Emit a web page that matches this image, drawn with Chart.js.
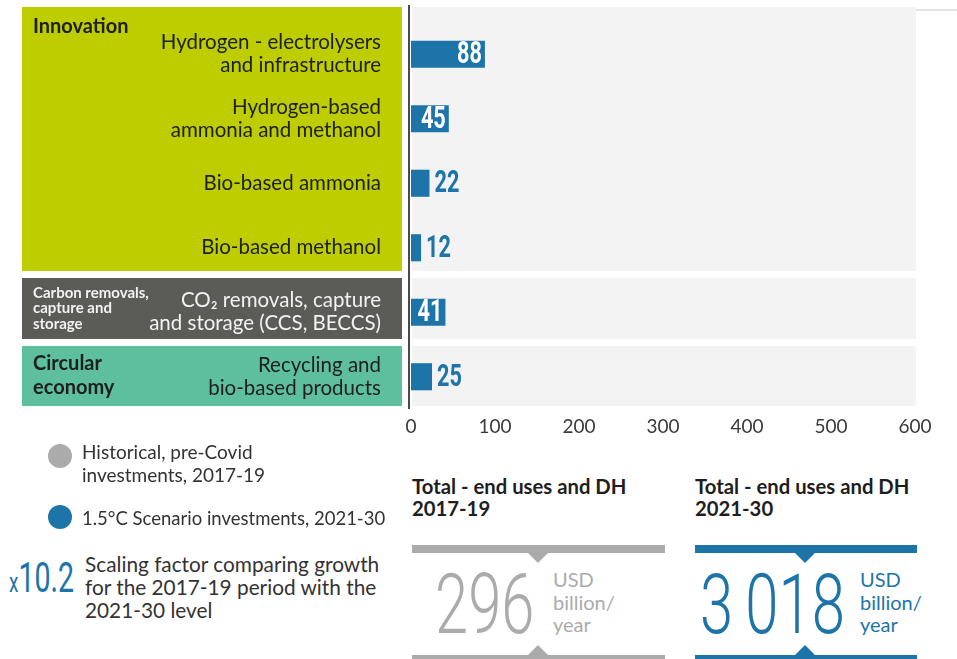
<!DOCTYPE html>
<html><head><meta charset="utf-8">
<script src="https://cdn.jsdelivr.net/npm/chart.js@4/dist/chart.umd.min.js"></script>
<style>
html,body{margin:0;padding:0;background:#fff;width:957px;height:659px;overflow:hidden;font-family:Lato,"Open Sans",sans-serif;}
#wrap{position:absolute;left:0;top:0;width:957px;height:445px;}
.abs{position:absolute;white-space:nowrap;}
.cond{display:inline-block;transform-origin:left center;}
</style></head><body>
<div id="wrap"><canvas id="c" width="957" height="445"></canvas></div>
<div id="bottom"></div>
<script>
// ---------- DATA ----------
const categories = [
  ['Hydrogen - electrolysers', 'and infrastructure'],
  ['Hydrogen-based', 'ammonia and methanol'],
  'Bio-based ammonia',
  'Bio-based methanol',
  ['CO\u2082 removals, capture', 'and storage (CCS, BECCS)'],
  ['Recycling and', 'bio-based products']
];
const investments2021_30 = [88, 45, 22, 12, 41, 25];
const groupNames = [['Innovation'], ['Carbon removals,', 'capture and', 'storage'], ['Circular', 'economy']];
const categoryGroup = [0, 0, 0, 0, 1, 2];
const xTicks = [0, 100, 200, 300, 400, 500, 600];
const legendLabels = [['Historical, pre-Covid', 'investments, 2017-19'], ['1.5\u00B0C Scenario investments, 2021-30']];
const scalingFactor = 10.2;
const scalingText = ['Scaling factor comparing growth', 'for the 2017-19 period with the', '2021-30 level'];
const totalTitles = [['Total - end uses and DH', '2017-19'], ['Total - end uses and DH', '2021-30']];
const totalValues = [296, 3018];
const totalUnit = ['USD', 'billion/', 'year'];

// ---------- STYLE ----------
const BLUE = '#1C74A8', GREY = '#ABABAB';
const boxColors = ['#BDCD00', '#5B5B57', '#5EBF9F'];
const boxTextColors = ['#1E1E1E', '#F2F2F2', '#1E1E1E'];
const padTop = [-15, -2, 1.5], padBottom = [9, 5.5, 3];
const titleFonts = ['bold 20px Lato', 'bold 15px Lato', 'bold 20px Lato'];
const titleLineH = [24, 15.5, 24];
const titleAlign = ['top', 'middle', 'middle'];

const panelPlugin = {
  id: 'panels',
  beforeDraw(chart) {
    const {ctx, chartArea: a, scales: {y}} = chart;
    const band = y.getPixelForValue(1) - y.getPixelForValue(0);
    ctx.save();
    groupNames.forEach((g, gi) => {
      const idx = categoryGroup.map((c, i) => c === gi ? i : -1).filter(i => i >= 0);
      const top = y.getPixelForValue(idx[0]) - band / 2 + padTop[gi];
      const bottom = y.getPixelForValue(idx[idx.length - 1]) + band / 2 - padBottom[gi];
      ctx.fillStyle = boxColors[gi];
      ctx.fillRect(22, top, 380, bottom - top);
      ctx.fillStyle = '#F3F3F3';
      ctx.fillRect(a.left + 1, top, a.right - a.left, bottom - top);
      ctx.fillStyle = boxTextColors[gi];
      ctx.font = titleFonts[gi];
      ctx.textAlign = 'left';
      ctx.textBaseline = 'middle';
      const lh = titleLineH[gi];
      let y0 = titleAlign[gi] === 'top' ? top + 20 : (top + bottom) / 2 - (g.length - 1) * lh / 2;
      g.forEach((line, li) => ctx.fillText(line, 33, y0 + li * lh));
    });
    // vertical axis line
    ctx.fillStyle = '#4A4A4A';
    ctx.fillRect(a.left - 3, 5, 2, a.bottom - 5);
    // thin line top right
    ctx.fillStyle = '#E2E2E2';
    ctx.fillRect(a.right + 1, 9, chart.width - a.right, 2);
    ctx.restore();
  },
  afterDatasetsDraw(chart) {
    const {ctx} = chart;
    const meta = chart.getDatasetMeta(0);
    meta.data.forEach((bar, i) => {
      const v = investments2021_30[i];
      const inside = v >= 40;
      ctx.save();
      ctx.translate(inside ? bar.x - 3 : bar.x + 5, bar.y + 1);
      ctx.scale(0.7, 1);
      ctx.font = 'bold 31px Roboto, "Liberation Sans", sans-serif';
      ctx.textAlign = inside ? 'right' : 'left';
      ctx.textBaseline = 'middle';
      ctx.fillStyle = inside ? '#FFFFFF' : BLUE;
      ctx.fillText(String(v), 0, 0);
      ctx.restore();
    });
  }
};

new Chart(document.getElementById('c'), {
  type: 'bar',
  data: {
    labels: categories,
    datasets: [{data: investments2021_30, backgroundColor: BLUE, barPercentage: 0.42, categoryPercentage: 1}]
  },
  options: {
    indexAxis: 'y',
    responsive: false,
    animation: false,
    devicePixelRatio: 1,
    layout: {padding: {left: 0, right: 42, top: 22, bottom: 0}},
    plugins: {legend: {display: false}, tooltip: {enabled: false}},
    scales: {
      x: {
        min: 0, max: 600,
        afterBuildTicks: s => { s.ticks = xTicks.map(v => ({value: v})); },
        ticks: {font: {family: 'Lato', size: 19}, color: '#3A3A3A', padding: 6},
        grid: {display: false, drawTicks: false}, border: {display: false},
        afterFit: s => { s.height = 36; s.paddingLeft = 0; s.paddingRight = 0; s.paddingTop = 0; s.paddingBottom = 0; }
      },
      y: {
        ticks: {
          font: {family: 'Lato', size: 20.5, lineHeight: 1.13},
          color: c => boxTextColors[categoryGroup[c.index]],
          padding: 30, autoSkip: false
        },
        grid: {display: false, drawTicks: false}, border: {display: false},
        afterFit: s => { s.width = 411; s.paddingTop = 0; s.paddingBottom = 0; s.paddingLeft = 0; s.paddingRight = 0; }
      }
    }
  },
  plugins: [panelPlugin]
});

// ---------- BOTTOM PANEL (HTML) ----------
const bottom = document.getElementById('bottom');
function el(html, css) {
  const d = document.createElement('div');
  d.className = 'abs';
  d.style.cssText = css;
  d.innerHTML = html;
  bottom.appendChild(d);
  return d;
}
// legend
const legendColors = [GREY, BLUE];
const legendTops = [440, 507];
const legendSizes = [19, 18.5];
const dotY = [456, 517];
legendLabels.forEach((lines, i) => {
  el('', `left:48px;top:${dotY[i] - 12}px;width:24px;height:24px;border-radius:50%;background:${legendColors[i]};`);
  el(lines.join('<br>'), `left:82px;top:${legendTops[i]}px;font-size:${legendSizes[i]}px;line-height:23px;color:#333;`);
});
el(`<span class="cond" style="transform:scaleX(0.68);"><span style="font-size:28px;">x</span><span style="font-size:42px;">${scalingFactor}</span></span>`,
   `left:9px;top:553px;height:50px;line-height:50px;color:${BLUE};font-family:Roboto,sans-serif;`);
el(scalingText.join('<br>'), `left:85px;top:552px;font-size:20.8px;line-height:23px;color:#333;`);

// totals
const totColors = [GREY, BLUE];
const totLeft = [412, 695], totWidth = [253, 222], notchX = [538, 805];
const fmt = n => String(n).replace(/\B(?=(\d{3})+(?!\d))/g, '\u2009');
totalTitles.forEach((t, i) => {
  el(t.join('<br>'), `left:${totLeft[i]}px;top:475px;font-weight:bold;font-size:20.3px;line-height:22px;color:#1E1E1E;`);
  el('', `left:${totLeft[i]}px;top:545px;width:${totWidth[i]}px;height:8px;background:${totColors[i]};`);
  el('', `left:${notchX[i] - 10}px;top:553px;width:0;height:0;border-left:10px solid transparent;border-right:10px solid transparent;border-top:10px solid ${totColors[i]};`);
  el('', `left:${totLeft[i]}px;top:655px;width:${totWidth[i]}px;height:8px;background:${totColors[i]};`);
  el('', `left:${notchX[i] - 10}px;top:645px;width:0;height:0;border-left:10px solid transparent;border-right:10px solid transparent;border-bottom:10px solid ${totColors[i]};`);
  const numLeft = i === 0 ? 435 : 700;
  const unitLeft = i === 0 ? 553 : 860;
  el(`<span class="cond" style="transform:scaleX(0.72);">${fmt(totalValues[i])}</span>`,
     `left:${numLeft}px;top:563px;font-family:Roboto,sans-serif;font-weight:300;font-size:83px;line-height:83px;color:${totColors[i]};`);
  el(totalUnit.join('<br>'), `left:${unitLeft}px;top:568px;font-size:20px;line-height:22.5px;color:${totColors[i]};`);
});
</script>
</body></html>
